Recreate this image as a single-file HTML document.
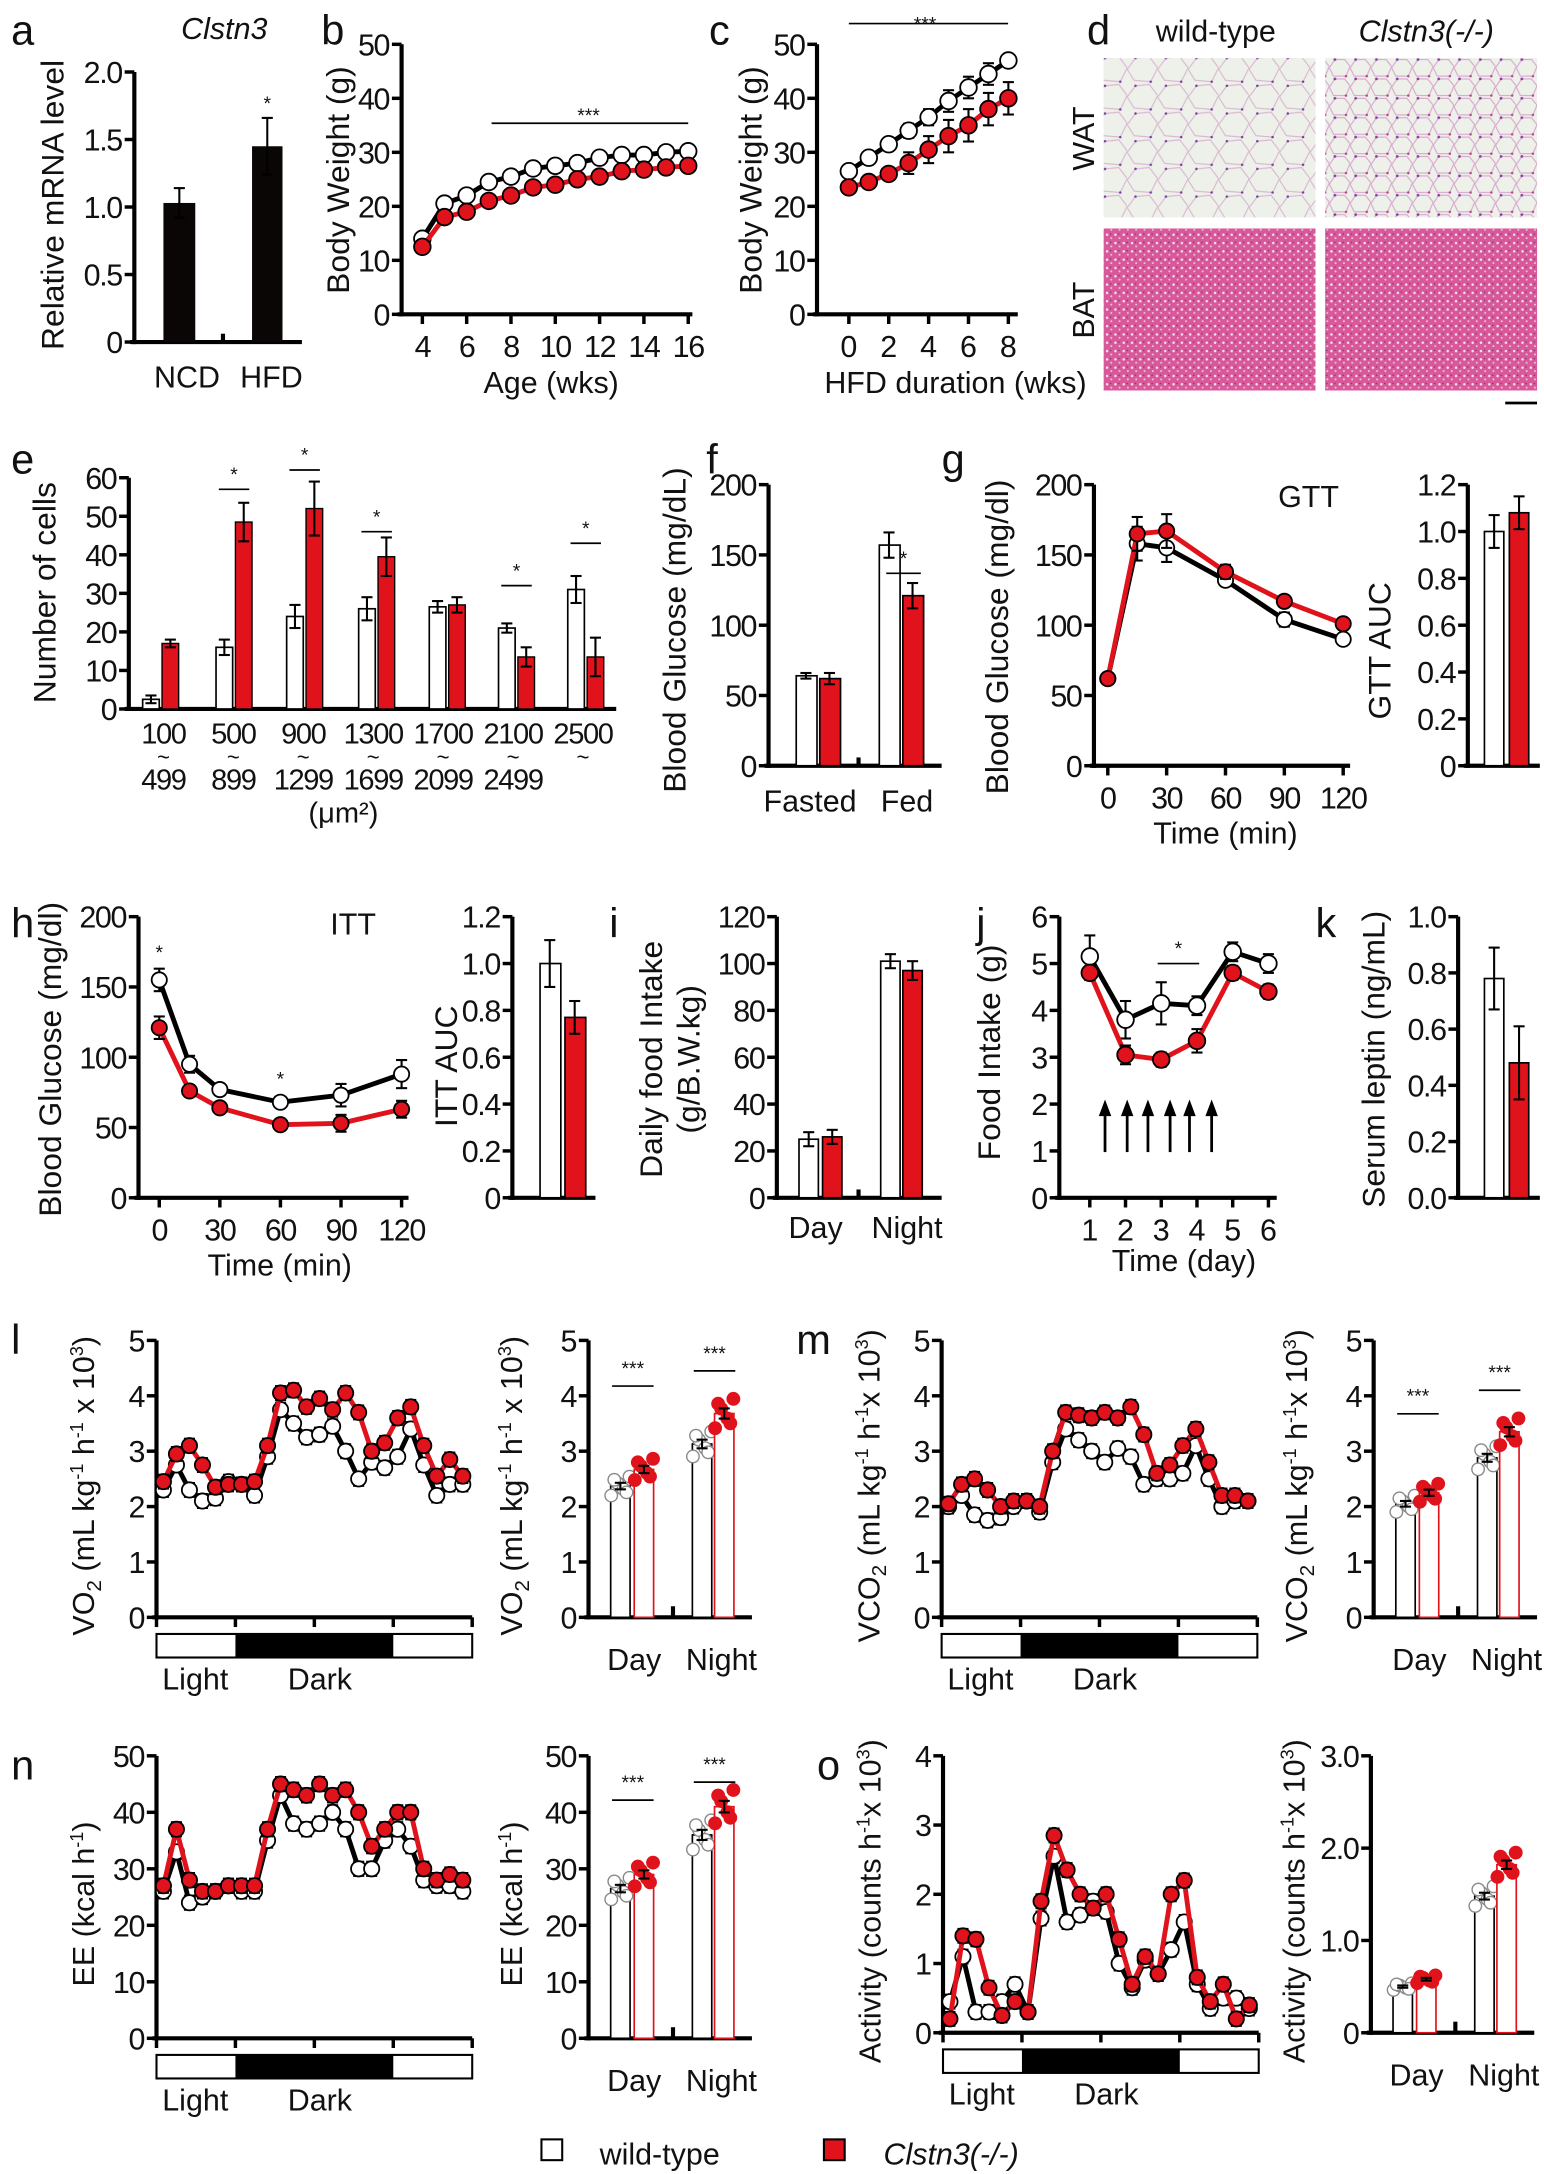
<!DOCTYPE html>
<html><head><meta charset="utf-8"><style>
html,body{margin:0;padding:0;background:#fff}
svg{display:block}
text{font-family:"Liberation Sans",Arial,sans-serif;fill:#111}
</style></head><body>
<svg id="s" xmlns="http://www.w3.org/2000/svg" width="1544" height="2174" viewBox="0 0 1115 1570">
<defs>
<pattern id="wat" width="22" height="20" patternUnits="userSpaceOnUse">
<rect width="22" height="20" fill="#eef0ea"/>
<path d="M0 10 L6 2 L16 1 L22 9 L17 19 L5 18 Z" fill="none" stroke="#d8b8d0" stroke-width="0.8"/>
<circle cx="6" cy="2" r="0.9" fill="#7a3aa0"/><circle cx="17" cy="19" r="0.9" fill="#7a3aa0"/>
</pattern>
<pattern id="wat2" width="15" height="14" patternUnits="userSpaceOnUse">
<rect width="15" height="14" fill="#eef0ea"/>
<path d="M0 7 L4 1 L11 1 L15 6 L12 13 L3 13 Z" fill="none" stroke="#d6a8cc" stroke-width="0.8"/>
<circle cx="4" cy="1" r="1" fill="#8a3aa8"/><circle cx="12" cy="13" r="0.9" fill="#c04090"/>
</pattern>
<pattern id="bat" width="6" height="6" patternUnits="userSpaceOnUse">
<rect width="6" height="6" fill="#d8589a"/>
<circle cx="1.5" cy="1.5" r="0.9" fill="#f2e4ee"/><circle cx="4.5" cy="4" r="0.7" fill="#e9c8dc"/>
<circle cx="4" cy="1" r="0.5" fill="#6a2a80"/>
</pattern>
</defs>
<g id="g"></g>
</svg>
<script>
var G=document.getElementById('g'),out='';
var R='#e0121b';
function T(x,y,s,fs,anc,extra){out+='<text x="'+x+'" y="'+y+'" font-size="'+(fs||21)+'" text-anchor="'+(anc||'middle')+'" '+(extra||'')+'>'+s+'</text>';}
function L(x1,y1,x2,y2,c,w){out+='<line x1="'+x1+'" y1="'+y1+'" x2="'+x2+'" y2="'+y2+'" stroke="'+(c||'#000')+'" stroke-width="'+(w||3)+'"/>';}
function Rc(x,y,w,h,f,s,sw){out+='<rect x="'+x+'" y="'+y+'" width="'+w+'" height="'+h+'" fill="'+f+'" stroke="'+(s||'none')+'" stroke-width="'+(sw||1)+'"/>';}
function C(x,y,r,f,s,sw){out+='<circle cx="'+x+'" cy="'+y+'" r="'+r+'" fill="'+f+'" stroke="'+(s||'#000')+'" stroke-width="'+(sw||1.5)+'"/>';}
function YL(x,y,s,fs){out+='<text x="'+x+'" y="'+y+'" font-size="'+(fs||22)+'" text-anchor="middle" transform="rotate(-90 '+x+' '+y+')">'+s+'</text>';}
function yaxis(x,y0,y1,vmax,ticks,labs,fs){L(x,y0+1.5,x,y1,'#000',3);var f=function(v){return y0-(y0-y1)*v/vmax};
 ticks.forEach(function(v,i){var y=f(v);L(x-7,y,x,y,'#000',2.5);T(x-9,y+8,labs?labs[i]:v,fs||22,'end','letter-spacing="-1"');});return f;}
function eb(x,y1,y2,c){L(x,y1,x,y2,c||'#000',1.5);L(x-4,y1,x+4,y1,c||'#000',1.5);L(x-4,y2,x+4,y2,c||'#000',1.5);}
function series(xs,ys,f,col,fill,r,err){var p=xs.map(function(x,i){return x+','+f(ys[i])}).join(' ');
 out+='<polyline points="'+p+'" fill="none" stroke="'+col+'" stroke-width="3.5"/>';
 xs.forEach(function(x,i){if(err)eb(x,f(ys[i]+err[i]),f(ys[i]-err[i]));});
 xs.forEach(function(x,i){C(x,f(ys[i]),r||6,fill,'#000',1.3);});}
function bar(x,w,v,f,fill,stroke,sw){Rc(x,f(v),w,f(0)-f(v),fill,stroke,sw||1.2);}
function star(x1,x2,y,s){L(x1,y,x2,y,'#000',1.2);T((x1+x2)/2,y-6,s||'*',14);}

// a
T(8,32,'a',30,'start');T(162,28,'Clstn3',22,'middle','font-style="italic"');
var f=yaxis(97,247,52,2,[0,0.5,1,1.5,2],['0','0.5','1.0','1.5','2.0']);
L(94,247,218,247,'#000',3);L(161,241,161,247,'#000',3);
bar(118,23,1.03,f,'#0a0606');eb(129.5,f(1.14),f(0.92));
bar(182,22,1.45,f,'#0a0606');eb(193,f(1.66),f(1.24));T(193,f(1.78)+6,'*',14);
YL(46,148,'Relative mRNA level',23);T(135,280,'NCD',22);T(196,280,'HFD',22);

// b
T(232,32,'b',30,'start');
f=yaxis(290,227,32,50,[0,10,20,30,40,50]);L(287,227,500,227,'#000',3);
var xs=[];for(var w=4;w<=16;w++)xs.push(305+(w-4)*16);
[4,6,8,10,12,14,16].forEach(function(w){var x=305+(w-4)*16;L(x,227,x,234,'#000',2.5);T(x,258,w,22,'middle','letter-spacing="-1"');});
var bw=[14,20.5,22,24.5,25.5,27,27.5,28,29,29.5,29.5,30,30.2],bk=[12.5,18,19,21,22,23.5,24,25,25.5,26.5,26.8,27.2,27.5];
series(xs,bw,f,'#000','#fff',6,bw.map(function(){return 0.7}));series(xs,bk,f,R,R,6,bk.map(function(){return 0.6}));
L(355,89,497,89,'#000',1.2);T(425,88,'***',14);
T(398,284,'Age (wks)',22);YL(252,130,'Body Weight (g)',23);

// c
T(512,32,'c',30,'start');
f=yaxis(590,227,32,50,[0,10,20,30,40,50]);L(587,227,735,227,'#000',3);
xs=[];for(w=0;w<=8;w++)xs.push(613+w*14.4);
[0,2,4,6,8].forEach(function(w){var x=613+w*14.4;L(x,227,x,234,'#000',2.5);T(x,258,w,22);});
var cw=[26.5,29,31.5,34,36.5,39.5,42,44.5,47],ck=[23.5,24.5,26,28,30.5,33,35,38,40];
series(xs,cw,f,'#000','#fff',6,[0.6,1,1,1.3,1.5,2,2,2,1]);series(xs,ck,f,R,R,6,[0.6,0.8,1,2,2.5,3,3,3,3]);
L(613,17,728,17,'#000',1.2);T(668,22,'***',14);
T(690,284,'HFD duration (wks)',22);YL(550,130,'Body Weight (g)',23);

// d
T(785,32,'d',30,'start');T(878,30,'wild-type',22);T(1030,30,'Clstn3(-/-)',22,'middle','font-style="italic"');
Rc(797,42,153,115,'url(#wat)');Rc(957,42,153,115,'url(#wat2)');
Rc(797,165,153,117,'url(#bat)');Rc(957,165,153,117,'url(#bat)');
YL(790,100,'WAT',22);YL(790,224,'BAT',22);L(1087,291,1110,291,'#000',2);

// e
T(8,342,'e',30,'start');
f=yaxis(93,512,345,60,[0,10,20,30,40,50,60]);L(90,512,445,512,'#000',3);
var ew=[2.5,16,24,26,26.5,21,31],ek=[17,48.5,52,39.5,27,13.5,13.5],ewe=[1,2,3,3,1.5,1.2,3.5],eke=[1,5,7,5,2,2.5,5];
var ex=[103,156,207,259,310,360,410];
ex.forEach(function(x,i){bar(x,12,ew[i],f,'#fff','#000');eb(x+6,f(ew[i]+ewe[i]),f(ew[i]-ewe[i]));
 bar(x+14,12,ek[i],f,R,'#000',1);eb(x+20,f(ek[i]+eke[i]),f(ek[i]-eke[i]));});
[[1,57],[2,62],[3,46],[5,32],[6,43]].forEach(function(a){var x=ex[a[0]];star(x+2,x+24,f(a[1]));});
var tops=['100','500','900','1300','1700','2100','2500'],bots=['499','899','1299','1699','2099','2499'];
tops.forEach(function(s,i){var x=118+i*50.5;T(x,537,s,21,'middle','letter-spacing="-1"');T(x,552,'~',16);if(bots[i])T(x,570,bots[i],21,'middle','letter-spacing="-1"');});
T(248,594,'(μm²)',21);YL(40,428,'Number of cells',23);

// f
T(510,342,'f',30,'start');
f=yaxis(555,553,350,200,[0,50,100,150,200]);L(552,553,680,553,'#000',3);L(620,547,620,553,'#000',3);
bar(575,15,64,f,'#fff','#000');eb(582,f(66),f(62));bar(592,15,62,f,R,'#000');eb(599,f(66),f(58));
bar(635,15,157,f,'#fff','#000');eb(642,f(166),f(148));bar(652,15,121,f,R,'#000');eb(659,f(130),f(112));
star(640,665,414);T(585,586,'Fasted',22);T(655,586,'Fed',22);YL(495,455,'Blood Glucose (mg/dL)',23);

// g
T(680,342,'g',30,'start');
f=yaxis(790,553,350,200,[0,50,100,150,200]);L(787,553,975,553,'#000',3);
var tx=function(t){return 800+t*170/120};
[0,30,60,90,120].forEach(function(t){L(tx(t),553,tx(t),560,'#000',2.5);T(tx(t),584,t,22,'middle','letter-spacing="-1"');});
xs=[0,15,30,60,90,120].map(tx);
series(xs,[62,158,155,132,104,90],f,'#000','#fff',5.5,[3,12,10,4,5,3]);series(xs,[62,165,167,138,117,101],f,R,R,5.5,[3,12,12,5,4,3]);
T(945,366,'GTT',22);T(885,609,'Time (min)',22);YL(728,460,'Blood Glucose (mg/dl)',23);
f=yaxis(1060,553,350,1.2,[0,0.2,0.4,0.6,0.8,1,1.2],['0','0.2','0.4','0.6','0.8','1.0','1.2']);L(1057,553,1112,553,'#000',3);
bar(1072,14,1.0,f,'#fff','#000');eb(1079,f(1.07),f(0.93));bar(1090,14,1.08,f,R,'#000');eb(1097,f(1.15),f(1.01));
YL(1004,470,'GTT AUC',23);

// h
T(8,677,'h',30,'start');
f=yaxis(100,865,662,200,[0,50,100,150,200]);L(97,865,295,865,'#000',3);
tx=function(t){return 115+t*175/120};
[0,30,60,90,120].forEach(function(t){L(tx(t),865,tx(t),872,'#000',2.5);T(tx(t),896,t,22,'middle','letter-spacing="-1"');});
xs=[0,15,30,60,90,120].map(tx);
series(xs,[155,95,77,68,73,88],f,'#000','#fff',5.5,[8,6,4,3,8,10]);series(xs,[121,76,64,52,53,63],f,R,R,5.5,[8,4,3,4,6,6]);
T(tx(0),f(170),'*',14);T(tx(60),f(80),'*',14);
T(255,675,'ITT',22);T(202,921,'Time (min)',22);YL(44,765,'Blood Glucose (mg/dl)',23);
f=yaxis(370,865,662,1.2,[0,0.2,0.4,0.6,0.8,1,1.2],['0','0.2','0.4','0.6','0.8','1.0','1.2']);L(367,865,430,865,'#000',3);
bar(390,15,1.0,f,'#fff','#000');eb(397,f(1.1),f(0.9));bar(408,15,0.77,f,R,'#000');eb(415,f(0.84),f(0.7));
YL(330,770,'ITT AUC',23);

// i
T(440,677,'i',30,'start');
f=yaxis(561,865,662,120,[0,20,40,60,80,100,120]);L(558,865,680,865,'#000',3);L(620,859,620,865,'#000',3);
bar(577,14,25,f,'#fff','#000');eb(584,f(28),f(22));bar(594,14,26,f,R,'#000');eb(601,f(29),f(23));
bar(636,14,101,f,'#fff','#000');eb(643,f(104),f(98));bar(652,14,97,f,R,'#000');eb(659,f(101),f(93));
T(589,894,'Day',22);T(655,894,'Night',22);YL(478,765,'Daily food Intake',23);YL(505,765,'(g/B.W.kg)',23);

// j
T(705,677,'j',30,'start');
f=yaxis(765,865,662,6,[0,1,2,3,4,5,6]);L(762,865,922,865,'#000',3);
xs=[0,1,2,3,4,5].map(function(i){return 787+i*25.8});
xs.forEach(function(x,i){L(x,865,x,872,'#000',2.5);T(x,896,i+1,22);});
series(xs,[5.15,3.8,4.15,4.1,5.25,5.0],f,'#000','#fff',6,[0.45,0.4,0.45,0.2,0.2,0.2]);
series(xs,[4.8,3.05,2.95,3.35,4.8,4.4],f,R,R,6,[0.15,0.2,0.15,0.25,0.15,0.15]);
[798,814,829,845,859,875].forEach(function(x){L(x,832,x,802,'#000',2);out+='<path d="M'+(x-4.5)+' 806 L'+x+' 794 L'+(x+4.5)+' 806 Z" fill="#000"/>';});
star(836,866,f(5.0));T(855,918,'Time (day)',22);YL(722,760,'Food Intake (g)',23);

// k
T(950,677,'k',30,'start');
f=yaxis(1053,865,662,1,[0,0.2,0.4,0.6,0.8,1],['0.0','0.2','0.4','0.6','0.8','1.0']);L(1050,865,1112,865,'#000',3);
bar(1072,14,0.78,f,'#fff','#000');eb(1079,f(0.89),f(0.67));bar(1090,14,0.48,f,R,'#000');eb(1097,f(0.61),f(0.35));
YL(1000,765,'Serum leptin (ng/mL)',23);

// time-course panels
function tc(ox,y0,y1,vmax,ticks,labs,wv,kv,lab,ysub,barAx,bt,bl,bvals,stars,barVmax){
 var f=yaxis(ox,y0,y1,vmax,ticks,labs);L(ox-3,y0,ox+228,y0,'#000',3);
 [0,1,2,3,4].forEach(function(i){var x=ox+i*57;L(x,y0,x,y0+7,'#000',2.5);});
 Rc(ox,y0+12,228,17,'#fff','#000',1.5);Rc(ox+57,y0+12,114,17,'#000');
 T(ox+28,y0+52,'Light',22);T(ox+118,y0+52,'Dark',22);
 var xs=[];for(var i=0;i<24;i++)xs.push(ox+5+i*9.4);
 var e1=wv.map(function(v){return vmax*0.025}),e2=kv.map(function(v){return vmax*0.025});
 series(xs,wv,f,'#000','#fff',5.5,e1);series(xs,kv,f,R,R,5.5,e2);
 YL(ox-45,(y0+y1)/2+5,lab,22);
 var fb=yaxis(barAx,y0,y1,barVmax,bt,bl);L(barAx-3,y0,barAx+118,y0,'#000',3);L(barAx+61,y0-8,barAx+61,y0,'#000',3);
 var bx=[barAx+16,barAx+33,barAx+75,barAx+91];
 bvals.forEach(function(v,i){var red=i%2==1;bar(bx[i],14,v,fb,'#fff',red?R:'#000',1.2);
   [-6,-2,2,6,-4,4].forEach(function(d,j){var yy=v*(1+d*0.012*(j%3==0?1:-1));C(bx[i]+7+d*1.1,fb(yy),4.5,red?R:'#fff',red?R:'#888',1);});
   eb(bx[i]+7,fb(v*1.025),fb(v*0.975));});
 stars.forEach(function(s){L(barAx+s[0],s[1],barAx+s[2],s[1],'#000',1.2);T(barAx+(s[0]+s[2])/2,s[1]-8,s[3]||'***',14);});
 T(barAx+33,y0+38,'Day',22);T(barAx+96,y0+38,'Night',22);
 YL(barAx-48,(y0+y1)/2+5,lab,22);
}
var lab1='VO<tspan font-size="15" dy="5">2</tspan><tspan dy="-5"> (mL kg</tspan><tspan font-size="13" dy="-8">-1</tspan><tspan dy="8"> h</tspan><tspan font-size="13" dy="-8">-1</tspan><tspan dy="8"> x 10</tspan><tspan font-size="13" dy="-8">3</tspan><tspan dy="8">)</tspan>';
var lab2='VCO<tspan font-size="15" dy="5">2</tspan><tspan dy="-5"> (mL kg</tspan><tspan font-size="13" dy="-8">-1</tspan><tspan dy="8"> h</tspan><tspan font-size="13" dy="-8">-1</tspan><tspan dy="8">x 10</tspan><tspan font-size="13" dy="-8">3</tspan><tspan dy="8">)</tspan>';
var lab3='EE (kcal h<tspan font-size="13" dy="-8">-1</tspan><tspan dy="8">)</tspan>';
var lab4='Activity (counts h<tspan font-size="13" dy="-8">-1</tspan><tspan dy="8">x 10</tspan><tspan font-size="13" dy="-8">3</tspan><tspan dy="8">)</tspan>';
T(8,978,'l',30,'start');
tc(113,1168,968,5,[0,1,2,3,4,5],null,
 [2.3,2.75,2.3,2.1,2.15,2.45,2.4,2.2,2.9,3.75,3.5,3.25,3.3,3.45,3.0,2.5,2.8,2.7,2.9,3.4,2.75,2.2,2.4,2.4],
 [2.45,2.95,3.1,2.75,2.35,2.4,2.4,2.45,3.1,4.05,4.1,3.8,3.95,3.75,4.05,3.7,3.0,3.15,3.6,3.8,3.1,2.55,2.85,2.55],
 lab1,0,425,[0,1,2,3,4,5],null,[2.37,2.67,3.13,3.68],[[17,1001,47],[76,990,106]],5);
T(575,978,'m',30,'start');
tc(680,1168,968,5,[0,1,2,3,4,5],null,
 [2.0,2.2,1.85,1.75,1.8,2.0,2.1,1.9,2.8,3.4,3.2,3.0,2.8,3.05,2.9,2.4,2.5,2.5,2.6,3.1,2.5,2.0,2.1,2.1],
 [2.05,2.4,2.5,2.3,2.0,2.1,2.1,2.0,3.0,3.7,3.65,3.6,3.7,3.6,3.8,3.3,2.6,2.75,3.1,3.4,2.8,2.2,2.2,2.1],
 lab2,0,992,[0,1,2,3,4,5],null,[2.05,2.25,2.88,3.35],[[17,1021,47],[76,1004,106]],5);
T(8,1285,'n',30,'start');
tc(113,1472,1268,50,[0,10,20,30,40,50],null,
 [26,33,24,25,26,27,26,26,35,43,38,37,38,40,37,30,30,35,37,34,28,27,27,26],
 [27,37,28,26,26,27,27,27,37,45,44,43,45,43,44,40,34,37,40,40,30,28,29,28],
 lab3,0,425,[0,10,20,30,40,50],null,[26.5,29,36,41],[[17,1300,47],[76,1287,106]],50);
T(590,1285,'o',30,'start');
tc(681,1468,1268,4,[0,1,2,3,4],null,
 [0.45,1.1,0.3,0.3,0.45,0.7,0.3,1.65,2.55,1.6,1.7,1.9,1.75,1.0,0.65,1.05,0.85,1.2,1.6,0.7,0.35,0.5,0.5,0.35],
 [0.2,1.4,1.35,0.65,0.25,0.45,0.3,1.9,2.85,2.35,2.0,1.8,2.0,1.35,0.7,1.1,0.85,2.0,2.2,0.8,0.45,0.7,0.2,0.4],
 lab4,0,990,[0,1,2,3],['0','1.0','2.0','3.0'],[0.5,0.58,1.48,1.82],[],3);

// legend
Rc(391,1545,15,15,'#fff','#000',1.5);T(433,1563,'wild-type',22,'start');
Rc(595,1545,15,15,R,'#000',1.5);T(638,1563,'Clstn3(-/-)',22,'start','font-style="italic"');
G.innerHTML=out;
</script>
</body></html>
